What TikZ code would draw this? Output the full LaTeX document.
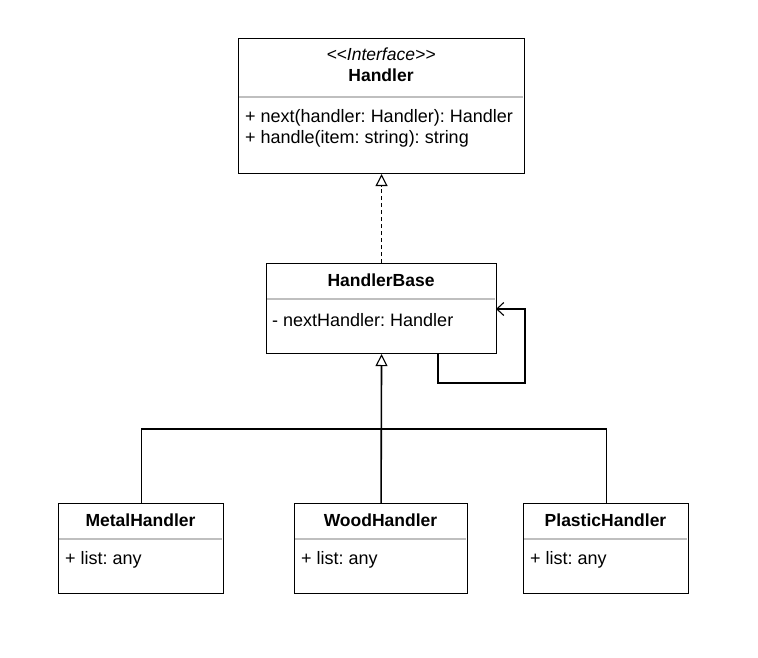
\documentclass[tikz,border=0pt]{standalone}
\usepackage{fontspec}
\setmainfont{Liberation Sans}
\usetikzlibrary{arrows.meta}
\frenchspacing
\begin{document}
\begin{tikzpicture}[x=1pt,y=-1pt,
  box/.style={draw, line width=1.1pt, anchor=north west, inner sep=0pt},
  divider/.style={draw=black!25, line width=1.1pt},
  title/.style={font=\fontsize{17.5}{20}\selectfont\bfseries, inner sep=0pt},
  attr/.style={font=\fontsize{18}{20}\selectfont, anchor=west, inner sep=0pt},
  conn/.style={line width=1.1pt},
  hollow/.style={-{Triangle[open, width=12pt, length=12pt, line width=1.1pt]}},
  openarrow/.style={-{Straight Barb[width=13pt, length=7pt, line width=1.1pt]}}
]
\useasboundingbox (0,0) rectangle (758,658);

% Handler interface
\node[box, minimum width=286pt, minimum height=135pt] (handler) at (238,38) {};
\node[title, font=\fontsize{17.5}{20}\selectfont\itshape] (hstereo) at (381,54) {<\kern0pt<Interface>\kern0pt>};
\node[title] (htitle) at (381,75) {Handler};
\draw[divider] (239,97) -- (523,97);
\node[attr] (hop1) at (245,118) {+ next(handler: Handler): Handler};
\node[attr] (hop2) at (245,139) {+ handle(item: string): string};

% HandlerBase
\node[box, minimum width=230pt, minimum height=90pt] (hbase) at (266,263) {};
\node[title] (hbtitle) at (381,280) {HandlerBase};
\draw[divider] (267,299) -- (495,299);
\node[attr] (hbattr) at (272,320) {- nextHandler: Handler};

% Subclasses
\node[box, minimum width=165pt, minimum height=90pt] (metal) at (58,503) {};
\node[title] (mtitle) at (140.5,520) {MetalHandler};
\draw[divider] (59,539) -- (222,539);
\node[attr] (mattr) at (65,560) {+ list: any};

\node[box, minimum width=173pt, minimum height=90pt] (wood) at (294,503) {};
\node[title] (wtitle) at (380.5,520) {WoodHandler};
\draw[divider] (295,539) -- (466,539);
\node[attr] (wattr) at (301,560) {+ list: any};

\node[box, minimum width=165pt, minimum height=90pt] (plastic) at (523,503) {};
\node[title] (ptitle) at (605.5,520) {PlasticHandler};
\draw[divider] (524,539) -- (687,539);
\node[attr] (pattr) at (530,560) {+ list: any};

% Realization
\draw[conn, dashed, dash pattern=on 4pt off 3pt, hollow] (hbase.north) -- (handler.south);

% Self association
\coordinate (loopstart) at (438,353);
\coordinate (loopcorner) at (525,383);
\coordinate (loopend) at (496,309);
\draw[conn, openarrow] (loopstart) -- (438,383) -- (loopcorner) -- (525,309) -- (loopend);

% Inheritance
\coordinate (bus) at (381,429);
\draw[conn] (metal.north) |- (bus) -| (plastic.north);
\draw[conn, line width=1.6pt, hollow] (wood.north) -- (hbase.south);
\end{tikzpicture}
\end{document}
